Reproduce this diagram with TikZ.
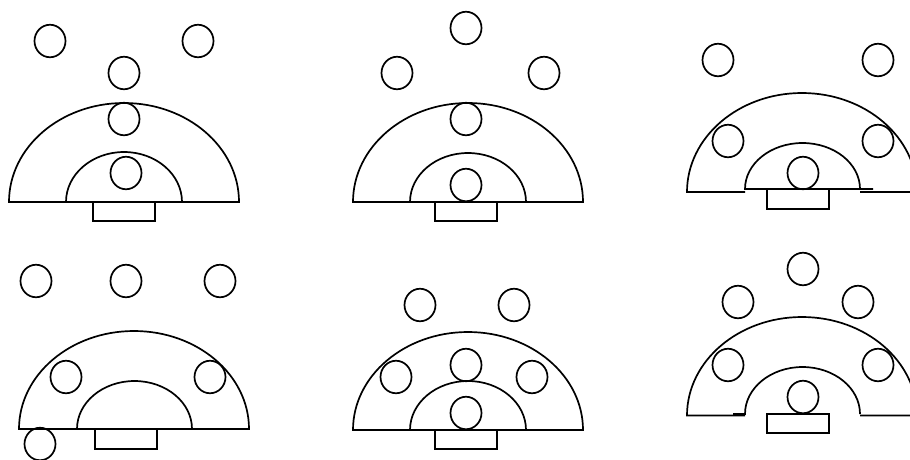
\documentclass[tikz,border=0pt]{standalone}
\usetikzlibrary{shapes.geometric}
\tikzset{
  ln/.style={line width=1.7pt, black, line join=miter},
  pl/.style={ellipse, draw, line width=1.7pt, minimum width=31pt, minimum height=32.5pt, inner sep=0pt},
}
\begin{document}
\begin{tikzpicture}[x=1pt,y=-1pt]
\useasboundingbox (0,0) rectangle (910,459);
\clip (0,0) rectangle (910,459);
% ---------- Panel 1 ----------
\draw[ln] (9,202) arc (180:360:115 and 99) -- cycle;
\draw[ln] (66,202) arc (180:360:58 and 50);
\draw[ln] (93,202) rectangle (155,221);
\node[pl] (a1) at (50,41) {};
\node[pl] (a2) at (198,41) {};
\node[pl] (a3) at (124,73) {};
\node[pl] (a4) at (124,119) {};
\node[pl] (a5) at (126,173) {};
% ---------- Panel 2 ----------
\draw[ln] (353,202) arc (180:360:115 and 99) -- cycle;
\draw[ln] (399,202) -- (410,202) arc (180:360:58 and 49);
\draw[ln] (435,202) rectangle (497,221);
\node[pl] (b1) at (466,28) {};
\node[pl] (b2) at (397,73) {};
\node[pl] (b3) at (544,73) {};
\node[pl] (b4) at (466,119) {};
\node[pl] (b5) at (466,185) {};
% ---------- Panel 3 ----------
\draw[ln] (745,192) -- (687,192) arc (180:360:115 and 99) -- (860,192);
\draw[ln] (873,189) -- (745,189) arc (180:360:57.5 and 46);
\draw[ln] (767,189) rectangle (829,209);
\node[pl] (c1) at (718,60) {};
\node[pl] (c2) at (878,60) {};
\node[pl] (c3) at (728,141) {};
\node[pl] (c4) at (878,141) {};
\node[pl] (c5) at (803,173) {};
% ---------- Panel 4 ----------
\draw[ln] (19,429) arc (180:360:115 and 98) -- cycle;
\draw[ln] (65,429) -- (77,429) arc (180:360:57.5 and 48);
\draw[ln] (95,429) rectangle (157,449);
\node[pl] (d1) at (36,281) {};
\node[pl] (d2) at (126,281) {};
\node[pl] (d3) at (220,281) {};
\node[pl] (d4) at (66,377) {};
\node[pl] (d5) at (210,377) {};
\node[pl] (d6) at (40,444) {};
% ---------- Panel 5 ----------
\draw[ln] (353,430) arc (180:360:115 and 98) -- cycle;
\draw[ln] (399,430) -- (410,430) arc (180:360:58 and 49);
\draw[ln] (435,430) rectangle (497,449);
\node[pl] (e1) at (420,305) {};
\node[pl] (e2) at (514,305) {};
\node[pl] (e3) at (396,377) {};
\node[pl] (e4) at (466,365) {};
\node[pl] (e5) at (532,377) {};
\node[pl] (e6) at (466,413) {};
% ---------- Panel 6 ----------
\draw[ln] (745,415.5) -- (687,415.5) arc (180:360:115 and 98.5) -- (860,415.5);
\draw[ln] (733,414) -- (745,414) arc (180:360:57.5 and 47) -- (860,414);
\draw[ln] (767,414) rectangle (829,433);
\node[pl] (f1) at (803,269) {};
\node[pl] (f2) at (738,302) {};
\node[pl] (f3) at (858,302) {};
\node[pl] (f4) at (728,365) {};
\node[pl] (f5) at (878,365) {};
\node[pl] (f6) at (803,397) {};
\end{tikzpicture}
\end{document}
